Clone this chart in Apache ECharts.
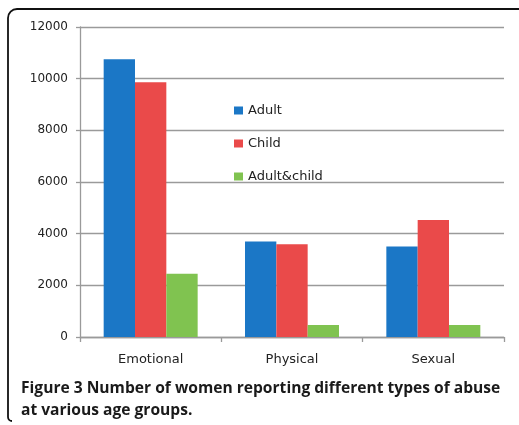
<!DOCTYPE html>
<html>
<head>
<meta charset="utf-8">
<script src="https://cdn.jsdelivr.net/npm/echarts@6/dist/echarts.min.js"></script>
<style>
  html, body { margin: 0; padding: 0; background: #fff; }
  #chart { width: 519px; height: 425px; }
</style>
</head>
<body>
<div id="chart"></div>
<script>
// Abuse types on the x axis
const categories = ['Emotional', 'Physical', 'Sexual'];
// Number of women per age group at which the abuse happened
const adult = [10750, 3700, 3500];
const child = [9860, 3590, 4530];
const adultAndChild = [2450, 465, 465];
// Value axis ticks
const yTicks = [0, 2000, 4000, 6000, 8000, 10000, 12000];

const captionLine1 = 'Figure 3 Number of women reporting different types of abuse';
const captionLine2 = 'at various age groups.';

const chart = echarts.init(document.getElementById('chart'), null, { renderer: 'canvas' });

const labelFont = 'DejaVu Sans';
const frameStyle = { fill: null, stroke: '#111', lineWidth: 1.8 };

function barSeries(name, data, color) {
  return {
    name: name,
    type: 'bar',
    data: data,
    barGap: '0%',
    barCategoryGap: '33.5%',
    itemStyle: { color: color },
    emphasis: { disabled: true },
    animation: false
  };
}

chart.setOption({
  animation: false,
  backgroundColor: '#fff',
  grid: { left: 80, right: 15, top: 27, bottom: 88, containLabel: false },
  legend: {
    orient: 'vertical',
    left: 229,
    top: 99,
    itemWidth: 9,
    itemHeight: 8,
    itemGap: 20,
    icon: 'rect',
    textStyle: { fontFamily: labelFont, fontSize: 13, color: '#222' },
    data: ['Adult', 'Child', 'Adult&child']
  },
  xAxis: {
    type: 'category',
    data: categories,
    axisLine: { lineStyle: { color: '#9a9a9a', width: 1.3 } },
    axisTick: { show: true, length: 5, lineStyle: { color: '#9a9a9a', width: 1.3 } },
    axisLabel: { fontFamily: labelFont, fontSize: 13, color: '#222', margin: 16 }
  },
  yAxis: {
    type: 'value',
    min: yTicks[0],
    max: yTicks[yTicks.length - 1],
    interval: yTicks[1] - yTicks[0],
    axisLine: { show: true, lineStyle: { color: '#9a9a9a', width: 1.3 } },
    axisTick: { show: true, length: 4, lineStyle: { color: '#9a9a9a', width: 1.3 } },
    splitLine: { lineStyle: { color: '#9a9a9a', width: 1.3 } },
    axisLabel: {
      fontFamily: labelFont, fontSize: 12, color: '#222', margin: 12,
      formatter: function (v) { return String(v); }
    }
  },
  series: [
    barSeries('Adult', adult, '#1b77c6'),
    barSeries('Child', child, '#ea4a4a'),
    barSeries('Adult&child', adultAndChild, '#80c350')
  ],
  graphic: [
    // rounded frame around the figure: left edge, top edge and corners
    { type: 'line', shape: { x1: 8, y1: 18, x2: 8, y2: 417 }, style: frameStyle, silent: true },
    { type: 'line', shape: { x1: 17, y1: 9, x2: 520, y2: 9 }, style: frameStyle, silent: true },
    { type: 'arc', shape: { cx: 17, cy: 18, r: 9, startAngle: Math.PI, endAngle: Math.PI * 1.5, clockwise: true }, style: frameStyle, silent: true },
    { type: 'arc', shape: { cx: 12, cy: 417, r: 4, startAngle: Math.PI * 0.5, endAngle: Math.PI, clockwise: true }, style: frameStyle, silent: true },
    {
      type: 'text',
      left: 21,
      top: 378,
      style: {
        text: captionLine1 + '\n' + captionLine2,
        font: 'bold 15.6px "Open Sans"',
        fill: '#1a1a1a',
        lineHeight: 22
      },
      silent: true
    }
  ]
});
</script>
</body>
</html>
